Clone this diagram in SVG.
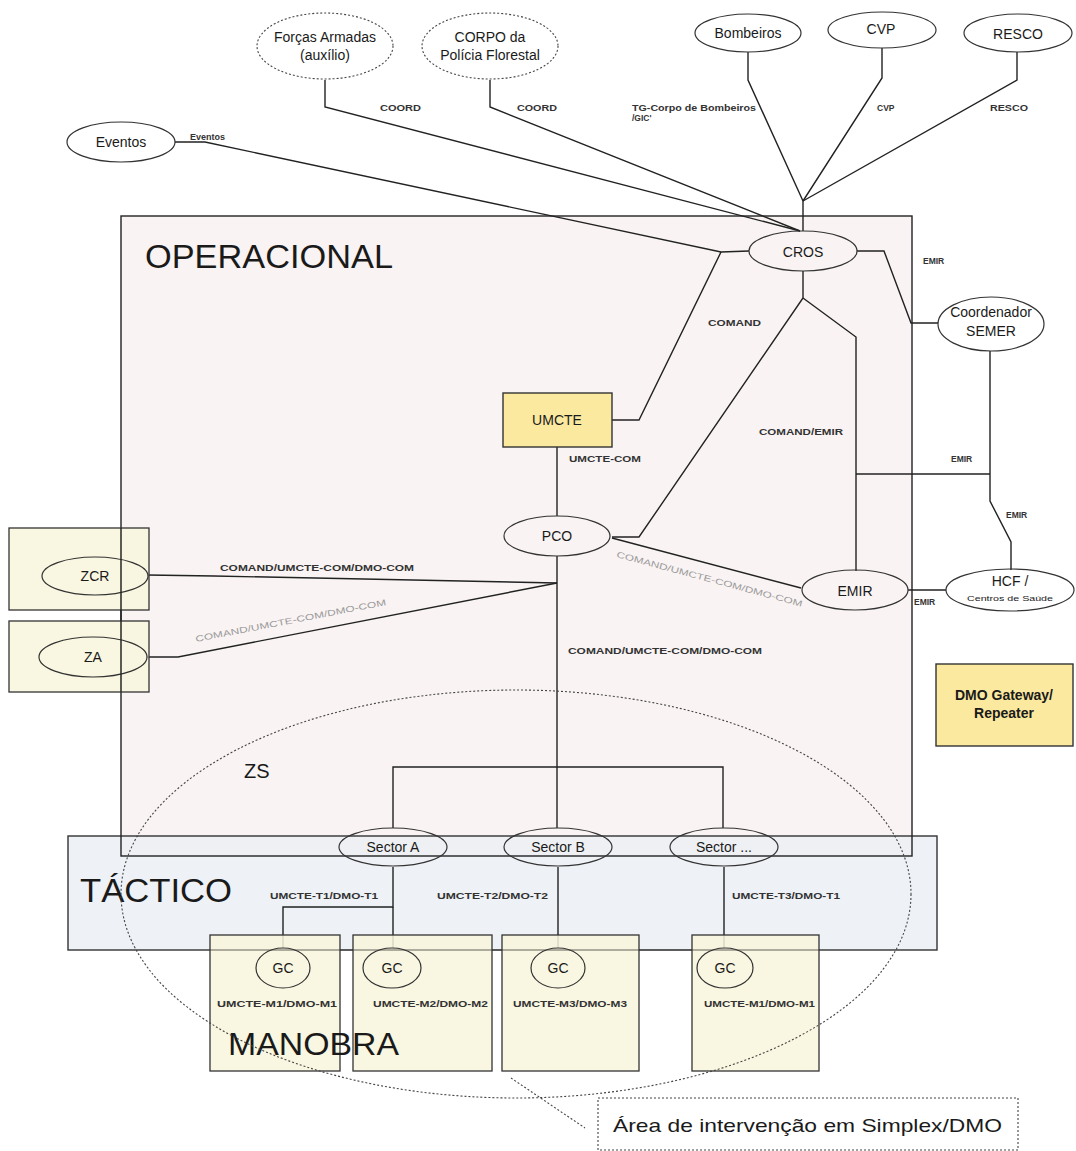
<svg xmlns="http://www.w3.org/2000/svg" width="1076" height="1151" viewBox="0 0 1076 1151">
<defs>
<style>
text{font-family:"Liberation Sans",Arial,sans-serif;fill:#1a1a1a}
.n{font-size:14px;text-anchor:middle}
.lb{font-size:8.5px;font-weight:bold;fill:#333}
.gl{font-size:8.5px;fill:#9a9a9a}
.big{font-size:33px}
.ln{fill:none;stroke:#222;stroke-width:1.4}
.el{fill:none;stroke:#333;stroke-width:1.2}
.dash{fill:none;stroke:#444;stroke-width:1.1;stroke-dasharray:2 2}
.yb{fill:#f8f4dc;stroke:#333;stroke-width:1.3;fill-opacity:0.85}
.ub{fill:#fbe9a0;stroke:#333;stroke-width:1.4}
</style>
</defs>
<rect width="1076" height="1151" fill="#fff"/>

<!-- zones -->
<g id="zone-operacional-bg"><rect x="121" y="216" width="791" height="640" fill="#f9f3f3"/></g>
<g id="zone-tactico"><rect x="68" y="836" width="869" height="114" fill="#edf0f4" fill-opacity="0.92" stroke="#333" stroke-width="1.4"/>
<text x="80" y="902" class="big" textLength="152" lengthAdjust="spacingAndGlyphs">TÁCTICO</text></g>
<g id="zone-operacional"><rect x="121" y="216" width="791" height="640" fill="none" stroke="#222" stroke-width="1.4"/>
<text x="145" y="268" class="big" textLength="248" lengthAdjust="spacingAndGlyphs">OPERACIONAL</text></g>

<!-- connectors -->
<g id="connectors">
<polyline class="ln" points="175,142 205,142 721,252 749,251"/>
<polyline class="ln" points="325,80 325,107 800,231"/>
<polyline class="ln" points="490,80 490,107 800,231"/>
<polyline class="ln" points="748,52 748,80 803,201"/>
<polyline class="ln" points="882,48 882,78 803,201"/>
<polyline class="ln" points="1017,52 1017,80 803,201"/>
<line class="ln" x1="803" y1="201" x2="803" y2="231"/>
<polyline class="ln" points="721,252 639,420 612,420"/>
<polyline class="ln" points="857,251 884,251 911,323 938,323"/>
<polyline class="ln" points="803,271 803,298 639,537 612,537"/>
<polyline class="ln" points="803,298 856,337 856,571"/>
<line class="ln" x1="856" y1="474" x2="990" y2="474"/>
<polyline class="ln" points="990,351 990,501 1011,542 1011,570"/>
<line class="ln" x1="908" y1="590" x2="946" y2="590"/>
<line class="ln" x1="557" y1="447" x2="557" y2="516"/>
<line class="ln" x1="612" y1="538" x2="801" y2="588"/>
<line class="ln" x1="557" y1="556" x2="557" y2="767"/>
<polyline class="ln" points="147,575 214,576 557,583"/>
<polyline class="ln" points="146,657 178,657 557,583"/>
<polyline class="ln" points="393,828 393,767 723,767 723,828"/>
<line class="ln" x1="557" y1="767" x2="557" y2="828"/>
<polyline class="ln" points="393,867 393,907 283,907 283,948"/>
<line class="ln" x1="393" y1="907" x2="393" y2="948"/>
<line class="ln" x1="558" y1="867" x2="558" y2="948"/>
<line class="ln" x1="724" y1="867" x2="724" y2="948"/>
<line class="dash" x1="511" y1="1078" x2="585" y2="1128"/>
</g>

<!-- labels -->
<g id="labels">
<text class="lb" x="380" y="111" textLength="41" lengthAdjust="spacingAndGlyphs">COORD</text>
<text class="lb" x="517" y="111" textLength="40" lengthAdjust="spacingAndGlyphs">COORD</text>
<text class="lb" x="190" y="140" textLength="35" lengthAdjust="spacingAndGlyphs">Eventos</text>
<text class="lb" x="632" y="111" textLength="124" lengthAdjust="spacingAndGlyphs">TG-Corpo de Bombeiros</text>
<text class="lb" x="632" y="121">/GIC'</text>
<text class="lb" x="877" y="111">CVP</text>
<text class="lb" x="990" y="111" textLength="38" lengthAdjust="spacingAndGlyphs">RESCO</text>
<text class="lb" x="923" y="264">EMIR</text>
<text class="lb" x="708" y="326" textLength="53" lengthAdjust="spacingAndGlyphs">COMAND</text>
<text class="lb" x="759" y="435" textLength="84" lengthAdjust="spacingAndGlyphs">COMAND/EMIR</text>
<text class="lb" x="569" y="462" textLength="72" lengthAdjust="spacingAndGlyphs">UMCTE-COM</text>
<text class="lb" x="951" y="462">EMIR</text>
<text class="lb" x="1006" y="518">EMIR</text>
<text class="lb" x="914" y="605">EMIR</text>
<text class="lb" x="568" y="654" textLength="194" lengthAdjust="spacingAndGlyphs">COMAND/UMCTE-COM/DMO-COM</text>
<text class="lb" x="220" y="571" textLength="194" lengthAdjust="spacingAndGlyphs">COMAND/UMCTE-COM/DMO-COM</text>
<text class="gl" x="0" y="0" transform="translate(196,642) rotate(-11)" textLength="194" lengthAdjust="spacingAndGlyphs">COMAND/UMCTE-COM/DMO-COM</text>
<text class="gl" x="0" y="0" transform="translate(616,557) rotate(15)" textLength="192" lengthAdjust="spacingAndGlyphs">COMAND/UMCTE-COM/DMO-COM</text>
<text class="lb" x="270" y="899" textLength="108" lengthAdjust="spacingAndGlyphs">UMCTE-T1/DMO-T1</text>
<text class="lb" x="437" y="899" textLength="111" lengthAdjust="spacingAndGlyphs">UMCTE-T2/DMO-T2</text>
<text class="lb" x="732" y="899" textLength="108" lengthAdjust="spacingAndGlyphs">UMCTE-T3/DMO-T1</text>
</g>

<!-- external nodes -->
<g id="node-forcas"><ellipse class="dash" cx="325" cy="46" rx="68" ry="33"/>
<text class="n" x="325" y="42">Forças Armadas</text><text class="n" x="325" y="60">(auxílio)</text></g>
<g id="node-corpo"><ellipse class="dash" cx="490" cy="46" rx="68" ry="33"/>
<text class="n" x="490" y="42">CORPO da</text><text class="n" x="490" y="60">Polícia Florestal</text></g>
<g id="node-bombeiros"><ellipse class="el" cx="748" cy="33" rx="53" ry="19"/><text class="n" x="748" y="38">Bombeiros</text></g>
<g id="node-cvp"><ellipse class="el" cx="882" cy="30" rx="54" ry="18"/><text class="n" x="881" y="34">CVP</text></g>
<g id="node-resco"><ellipse class="el" cx="1018" cy="33" rx="54" ry="19"/><text class="n" x="1018" y="39">RESCO</text></g>
<g id="node-eventos"><ellipse class="el" cx="121" cy="142" rx="54" ry="20"/><text class="n" x="121" y="147">Eventos</text></g>

<!-- operational nodes -->
<g id="node-cros"><ellipse class="el" cx="803" cy="251" rx="54" ry="20"/><text class="n" x="803" y="257">CROS</text></g>
<g id="node-semer"><ellipse class="el" cx="991" cy="324" rx="53" ry="27"/>
<text class="n" x="991" y="317">Coordenador</text><text class="n" x="991" y="336">SEMER</text></g>
<g id="node-umcte"><rect class="ub" x="503" y="393" width="109" height="54"/><text class="n" x="557" y="425">UMCTE</text></g>
<g id="node-pco"><ellipse class="el" cx="557" cy="536" rx="53" ry="20"/><text class="n" x="557" y="541">PCO</text></g>
<g id="node-emir"><ellipse class="el" cx="855" cy="590" rx="53" ry="20"/><text class="n" x="855" y="596">EMIR</text></g>
<g id="node-hcf"><ellipse class="el" cx="1010" cy="590" rx="64" ry="21"/>
<text class="n" x="1010" y="586">HCF /</text><text class="n" x="1010" y="601" style="font-size:8px" textLength="86" lengthAdjust="spacingAndGlyphs">Centros de Saúde</text></g>
<g id="node-dmo"><rect class="ub" x="936" y="664" width="137" height="82"/>
<text class="n" x="1004" y="700" font-weight="bold">DMO Gateway/</text><text class="n" x="1004" y="718" font-weight="bold">Repeater</text></g>
<g id="node-zcr"><rect class="yb" x="9" y="528" width="140" height="82"/><ellipse class="el" cx="95" cy="576" rx="53" ry="19"/><text class="n" x="95" y="581">ZCR</text></g>
<g id="node-za"><rect class="yb" x="9" y="621" width="140" height="71"/><ellipse class="el" cx="93" cy="657" rx="54" ry="20"/><text class="n" x="93" y="662">ZA</text></g>
<line x1="121" y1="528" x2="121" y2="692" stroke="#222" stroke-width="1.4"/>

<!-- sectors -->
<g id="node-sector-a"><ellipse class="el" cx="393" cy="847" rx="54" ry="19"/><text class="n" x="393" y="852">Sector A</text></g>
<g id="node-sector-b"><ellipse class="el" cx="558" cy="847" rx="54" ry="19"/><text class="n" x="558" y="852">Sector B</text></g>
<g id="node-sector-c"><ellipse class="el" cx="724" cy="847" rx="54" ry="19"/><text class="n" x="724" y="852">Sector ...</text></g>

<!-- manobra -->
<g id="node-gc1"><rect class="yb" x="210" y="935" width="130" height="136"/><ellipse class="el" cx="283" cy="968" rx="27" ry="20"/><text class="n" x="283" y="973">GC</text>
<text class="lb" x="217" y="1007" textLength="120" lengthAdjust="spacingAndGlyphs">UMCTE-M1/DMO-M1</text></g>
<g id="node-gc2"><rect class="yb" x="353" y="935" width="139" height="136"/><ellipse class="el" cx="392" cy="968" rx="29" ry="20"/><text class="n" x="392" y="973">GC</text>
<text class="lb" x="373" y="1007" textLength="115" lengthAdjust="spacingAndGlyphs">UMCTE-M2/DMO-M2</text></g>
<g id="node-gc3"><rect class="yb" x="502" y="935" width="137" height="136"/><ellipse class="el" cx="558" cy="968" rx="27" ry="20"/><text class="n" x="558" y="973">GC</text>
<text class="lb" x="513" y="1007" textLength="114" lengthAdjust="spacingAndGlyphs">UMCTE-M3/DMO-M3</text></g>
<g id="node-gc4"><rect class="yb" x="692" y="935" width="127" height="136"/><ellipse class="el" cx="725" cy="968" rx="28" ry="20"/><text class="n" x="725" y="973">GC</text>
<text class="lb" x="704" y="1007" textLength="111" lengthAdjust="spacingAndGlyphs">UMCTE-M1/DMO-M1</text></g>
<line x1="210" y1="950" x2="819" y2="950" stroke="#333" stroke-width="1.2" stroke-opacity="0.6"/>
<text x="228" y="1055" font-size="31" textLength="171" lengthAdjust="spacingAndGlyphs">MANOBRA</text>

<!-- ZS area -->
<g id="zone-zs"><ellipse class="dash" cx="516" cy="894" rx="395" ry="204"/><text x="244" y="778" font-size="20">ZS</text></g>

<!-- callout -->
<g id="callout"><rect class="dash" x="598" y="1098" width="420" height="52"/>
<text x="613" y="1132" font-size="19" textLength="389" lengthAdjust="spacingAndGlyphs">Área de intervenção em Simplex/DMO</text></g>
</svg>
